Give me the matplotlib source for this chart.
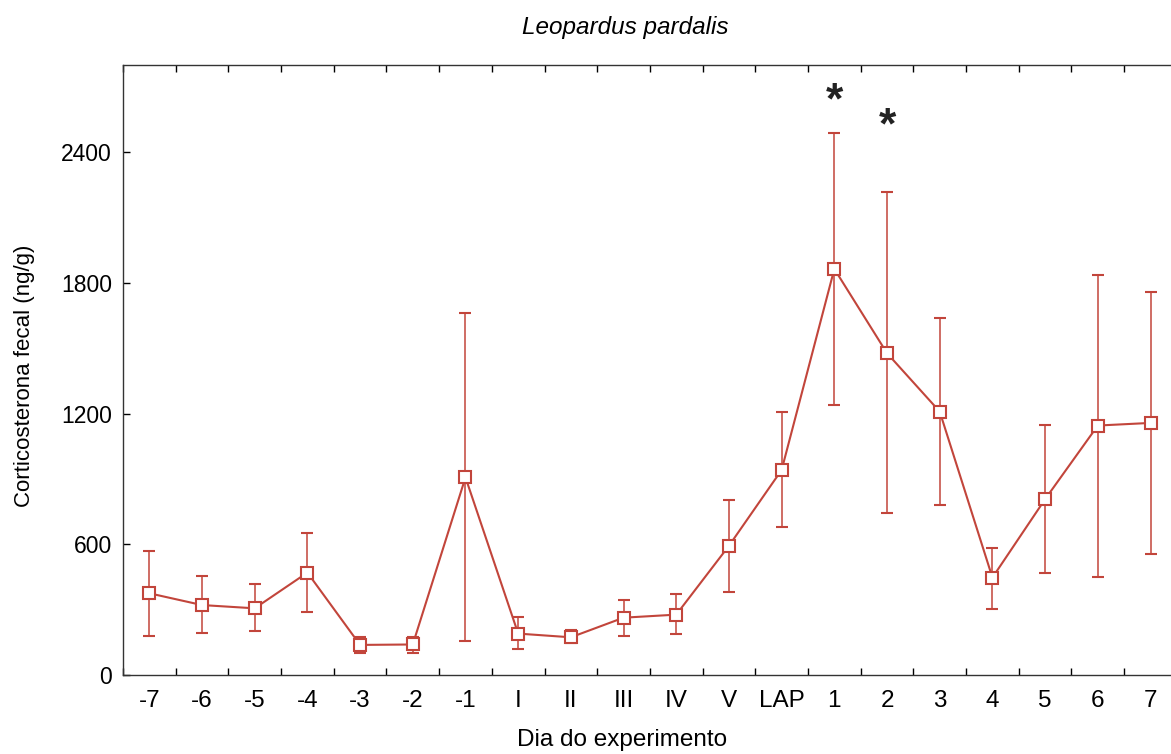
import matplotlib
matplotlib.use("Agg")
import matplotlib.pyplot as plt
import numpy as np

plt.rcParams["font.family"] = ["Liberation Sans", "DejaVu Sans"]

# dias do experimento
days = ["-7", "-6", "-5", "-4", "-3", "-2", "-1", "I", "II", "III", "IV", "V",
        "LAP", "1", "2", "3", "4", "5", "6", "7"]
# media e limites da barra de erro (ng/g)
mean_cort = [375, 321, 306, 470, 138, 140, 907, 190, 173, 263, 277, 593,
             941, 1864, 1477, 1209, 447, 807, 1145, 1157]
upper_cort = [570, 454, 416, 650, 176, 176, 1660, 265, 206, 344, 370, 803,
              1206, 2486, 2215, 1637, 581, 1147, 1836, 1760]
lower_cort = [179, 191, 203, 288, 100, 100, 156, 119, 145, 180, 188, 382,
              677, 1239, 742, 782, 303, 467, 448, 555]
# dias com diferenca significativa
signif_days = ["1", "2"]
signif_y = [2630, 2515]

RED = "#c2453b"

fig = plt.figure(figsize=(11.71, 7.54), dpi=100)
ax = fig.add_axes([0.105, 0.1048, 0.900, 0.809])

x = np.arange(len(days))
mean = np.array(mean_cort)
yerr = [mean - np.array(lower_cort), np.array(upper_cort) - mean]

ax.errorbar(x, mean, yerr=yerr, color=RED, ecolor=RED, elinewidth=1.1,
            capsize=4.5, capthick=1.1, linewidth=1.5, marker="s",
            markersize=8.5, markerfacecolor="white", markeredgecolor=RED,
            markeredgewidth=1.5, zorder=3)

for day, yv in zip(signif_days, signif_y):
    ax.text(days.index(day), yv, "*", ha="center", va="center",
            fontsize=32, fontweight="bold", color="#222222")

ax.set_xlim(-0.5, len(days) - 0.5)
ax.set_ylim(0, 2800)
ax.set_yticks([0, 600, 1200, 1800, 2400])

# rotulos no centro de cada dia, marcas nos limites entre dias
ax.set_xticks(x)
ax.set_xticklabels(days)
ax.set_xticks(np.arange(len(days) + 1) - 0.5, minor=True)
ax.tick_params(axis="x", which="major", length=0, pad=11, labelsize=17.5)
ax.tick_params(axis="x", which="minor", direction="in", length=5,
               width=1, top=True, bottom=True)
ax.tick_params(axis="y", direction="in", length=5, width=1, labelsize=16.5,
               pad=8, right=False)

for sp in ax.spines.values():
    sp.set_linewidth(1.0)
    sp.set_color("#333333")

ax.set_ylabel("Corticosterona fecal (ng/g)", fontsize=16)
ax.yaxis.set_label_coords(-0.083, 0.49)
ax.set_xlabel("Dia do experimento", fontsize=17.5)
ax.xaxis.set_label_coords(0.474, -0.088)

fig.text(0.534, 0.963, "Leopardus pardalis", ha="center", va="center",
         fontsize=17.5, style="italic")

fig.savefig("out.png", dpi=100)
